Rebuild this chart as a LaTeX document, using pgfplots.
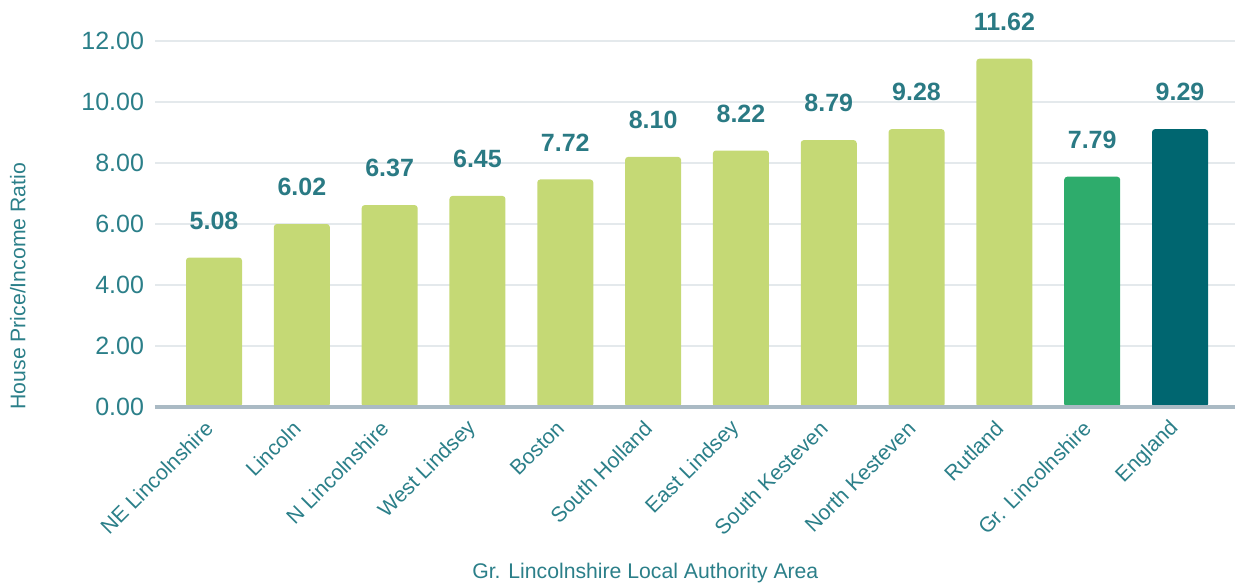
\documentclass[border=0pt]{standalone}
\usepackage{pgfplots}
\pgfplotsset{compat=1.18}
\usepackage{pgfplotstable}
\usepackage{fontspec}
\setmainfont{Liberation Sans}
\usetikzlibrary{calc}
\definecolor{lgreen}{HTML}{C5D975}
\definecolor{mgreen}{HTML}{2EAC6C}
\definecolor{dteal}{HTML}{006670}
\definecolor{txt}{HTML}{2B7F89}
\definecolor{lbl}{HTML}{2A7A84}
\definecolor{axln}{HTML}{AABAC4}
\definecolor{grd}{HTML}{E4E9EC}

\pgfplotstableread{
x y lab
0 4.90 5.08
1 6.00 6.02
2 6.62 6.37
3 6.92 6.45
4 7.46 7.72
5 8.20 8.10
6 8.41 8.22
7 8.75 8.79
8 9.11 9.28
9 11.42 11.62
}\locals
\pgfplotstableread{
x y lab
10 7.55 7.79
}\grlinc
\pgfplotstableread{
x y lab
11 9.11 9.29
}\england

\begin{document}
\begin{tikzpicture}
\begin{axis}[
  scale only axis,
  width=540pt, height=183pt,
  xmin=-0.672, xmax=11.626,
  ymin=0, ymax=12,
  ytick={0,2,4,6,8,10,12},
  xtick={0,1,2,3,4,5,6,7,8,9,10,11},
  xticklabels={NE Lincolnshire,Lincoln,N Lincolnshire,West Lindsey,Boston,South Holland,East Lindsey,South Kesteven,North Kesteven,Rutland,Gr. Lincolnshire,England},
  x tick label style={xshift=0pt, yshift=-6.5pt, rotate=45, anchor=east, font=\fontsize{10.6}{12}\selectfont, text=txt},
  y tick label style={xshift=-2pt, font=\fontsize{12.5}{14}\selectfont, text=txt},
  yticklabel={\pgfmathprintnumber[fixed, fixed zerofill, precision=2, assume math mode=true]{\tick}},
  major tick length=0pt,
  axis x line*=bottom,
  axis y line*=left,
  y axis line style={draw=none},
  x axis line style={draw=axln, line width=2pt, -},
  ymajorgrids,
  grid style={draw=grd, line width=1pt},
  clip=false,
  ybar, bar width=28pt, bar shift=0pt,
  ylabel={House Price/Income Ratio},
  ylabel style={at={(axis description cs:-0.127,0.33)}, anchor=center, rotate=0, font=\fontsize{10.6}{12}\selectfont, text=txt},
  xlabel={Gr. Lincolnshire Local Authority Area},
  xlabel style={at={(axis description cs:0.454,-0.454)}, anchor=center, font=\fontsize{10.6}{12}\selectfont, text=txt},
  nodes near coords,
  point meta=explicit symbolic,
  nodes near coords style={anchor=center, yshift=18.5pt, font=\bfseries\fontsize{12.5}{14}\selectfont, text=lbl},
]
\addplot[fill=lgreen, draw=none, rounded corners=1.5pt] table[x=x, y=y, meta=lab] {\locals};
\addplot[fill=mgreen, draw=none, rounded corners=1.5pt] table[x=x, y=y, meta=lab] {\grlinc};
\addplot[fill=dteal, draw=none, rounded corners=1.5pt] table[x=x, y=y, meta=lab] {\england};
\draw[axln, line width=2pt] (axis cs:-0.672,0) -- (axis cs:11.626,0);
\end{axis}
\pgfresetboundingbox
\path[use as bounding box] ($(current axis.south west)+(-77.5pt,-89pt)$) rectangle ($(current axis.north east)+(0pt,20.5pt)$);
\end{tikzpicture}
\end{document}
